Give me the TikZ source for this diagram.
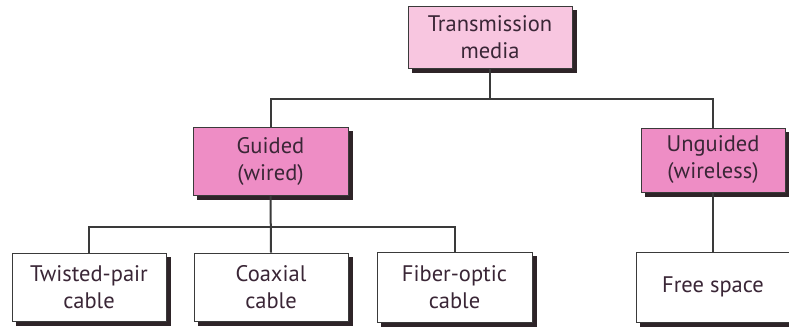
\documentclass[tikz,border=0pt]{standalone}
\usepackage{fontspec}
\setmainfont{PT Sans}
\definecolor{lightpink}{HTML}{F8C6E0}
\definecolor{midpink}{HTML}{EE8DC5}
\definecolor{txt}{HTML}{3A2636}
\definecolor{edge}{HTML}{3A3A3A}
\definecolor{shadowc}{HTML}{2E2428}
\tikzset{
  box/.style={draw=edge, line width=0.8pt, inner sep=0pt, align=center,
    font=\fontsize{22.5}{27}\selectfont, text=txt},
  topbox/.style={box, fill=lightpink},
  catbox/.style={box, fill=midpink},
  leafbox/.style={box, fill=white},
  shadowbox/.style={fill=shadowc, draw=shadowc, line width=0.8pt, inner sep=0pt},
  conn/.style={draw=edge, line width=2pt}
}
\begin{document}
\begin{tikzpicture}[x=1pt,y=-1pt]
\useasboundingbox (0,0) rectangle (789,328);
\fill[white] (0,0) rectangle (789,328);
\clip (0,0) rectangle (789,328);
\coordinate (b1) at (0,99);
\coordinate (b2) at (0,227);
% shadows
\node[shadowbox, minimum width=164pt, minimum height=62pt] (Ts) at (494,41) {};
\node[shadowbox, minimum width=155pt, minimum height=68pt] (Gs) at (274.5,165) {};
\node[shadowbox, minimum width=144pt, minimum height=64pt] (Us) at (717,164) {};
\node[shadowbox, minimum width=154pt, minimum height=68pt] (TWs) at (93,291) {};
\node[shadowbox, minimum width=154pt, minimum height=68pt] (COs) at (275,291) {};
\node[shadowbox, minimum width=155pt, minimum height=70pt] (FOs) at (458.5,291) {};
\node[shadowbox, minimum width=154pt, minimum height=70pt] (FSs) at (717,291) {};
% boxes
\node[topbox, minimum width=164pt, minimum height=62pt] (T) at (490,37) {Transmission\\media};
\node[catbox, minimum width=155pt, minimum height=68pt] (G) at (270.5,161) {Guided\\(wired)};
\node[catbox, minimum width=144pt, minimum height=64pt] (U) at (713,160) {Unguided\\(wireless)};
\node[leafbox, minimum width=154pt, minimum height=68pt] (TW) at (89,287) {Twisted-pair\\cable};
\node[leafbox, minimum width=154pt, minimum height=68pt] (CO) at (271,287) {Coaxial\\cable};
\node[leafbox, minimum width=155pt, minimum height=70pt] (FO) at (454.5,287) {Fiber-optic\\cable};
\node[leafbox, minimum width=154pt, minimum height=70pt] (FS) at (713,287) {Free space};
% connectors
\draw[conn] (T.south) -- (T.south |- b1);
\draw[conn] (G.north) -- (G.north |- b1) -- (U.north |- b1) -- (U.north);
\draw[conn] (G.south) -- (CO.north);
\draw[conn] (TW.north) -- (TW.north |- b2) -- (FO.north |- b2) -- (FO.north);
\draw[conn] (U.south) -- (FS.north);
\end{tikzpicture}
\end{document}
